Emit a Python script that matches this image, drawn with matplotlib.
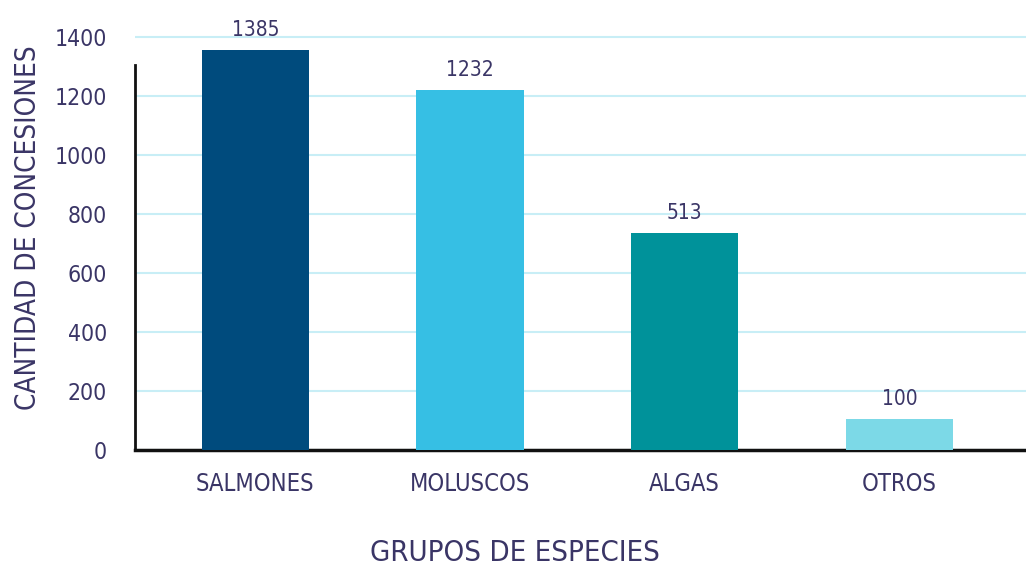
import matplotlib.pyplot as plt

# data
grupos = ['SALMONES', 'MOLUSCOS', 'ALGAS', 'OTROS']
alturas = [1356, 1220, 736, 105]          # drawn bar heights
etiquetas = ['1385', '1232', '513', '100']  # printed value labels
colores = ['#004b7d', '#36bfe4', '#00929a', '#7cd9e7']
yticks = [0, 200, 400, 600, 800, 1000, 1200, 1400]

texto = '#3a3566'
plt.rcParams['font.family'] = ['DejaVu Sans']
plt.rcParams['font.stretch'] = 'condensed'

fig = plt.figure(figsize=(10.26, 5.68), dpi=100)
ax = fig.add_axes([0.1316, 0.2077, 0.8684, 0.7377])

x = list(range(len(grupos)))
ax.bar(x, alturas, width=0.5, color=colores, zorder=3)

# value labels above bars
for xi, h, lab in zip(x, alturas, etiquetas):
    ax.text(xi, h + 35, lab, ha='center', va='bottom', fontsize=15, color=texto)

ax.set_xlim(-0.56, 3.59)
ax.set_ylim(0, 1420)
ax.set_yticks(yticks)
ax.set_xticks(x)
ax.set_xticklabels(grupos)

# light cyan horizontal grid
ax.grid(axis='y', color='#c8eef6', linewidth=1.5, zorder=0)
ax.set_axisbelow(True)

for s in ['top', 'right']:
    ax.spines[s].set_visible(False)
ax.spines['left'].set_bounds(0, 1305)
ax.spines['left'].set_linewidth(2)
ax.spines['bottom'].set_linewidth(2.5)
ax.spines['left'].set_color('#111111')
ax.spines['bottom'].set_color('#111111')

ax.tick_params(axis='y', length=0, pad=20, labelsize=16.5, labelcolor=texto)
ax.tick_params(axis='x', length=0, pad=16, labelsize=17, labelcolor=texto)

ax.set_xlabel('GRUPOS DE ESPECIES', fontsize=21, color=texto)
ax.set_ylabel('CANTIDAD DE CONCESIONES', fontsize=20, color=texto)
ax.xaxis.set_label_coords(0.426, -0.213)
ax.yaxis.set_label_coords(-0.104, 0.53)

fig.savefig('out.png', dpi=100)
